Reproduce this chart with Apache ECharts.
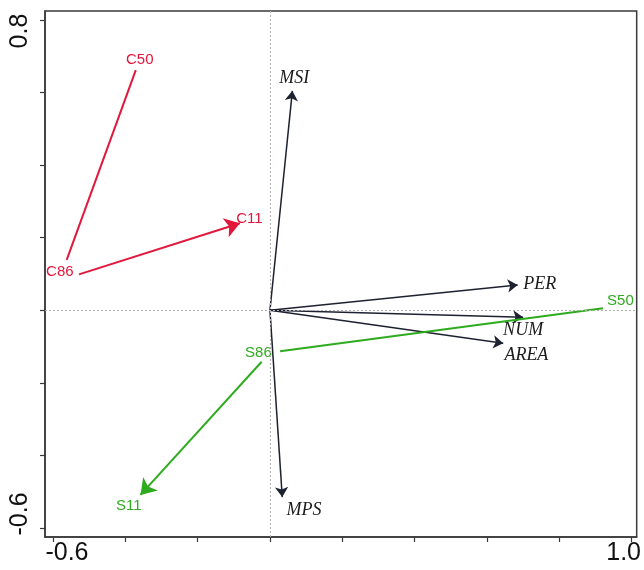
<!DOCTYPE html>
<html>
<head>
<meta charset="utf-8">
<script src="https://cdn.jsdelivr.net/npm/echarts@6/dist/echarts.min.js"></script>
<style>html,body{margin:0;padding:0;background:#fff}#c{width:644px;height:570px}</style>
</head>
<body>
<div id="c"></div>
<script>
// ---- data ----
const xTicks = [-0.6, -0.4, -0.2, 0, 0.2, 0.4, 0.6, 0.8, 1.0];
const yTicks = [-0.6, -0.4, -0.2, 0, 0.2, 0.4, 0.6, 0.8];
const xTickLabels = [-0.6, 1.0];
const yTickLabels = [-0.6, 0.8];

// environmental variable arrows (from origin)
const varNames  = ['MSI', 'PER', 'NUM', 'AREA', 'MPS'];
const varTipX   = [0.062, 0.685, 0.700, 0.645, 0.034];
const varTipY   = [0.605, 0.070, -0.019, -0.091, -0.515];
const varLabX   = [0.067, 0.746, 0.700, 0.709, 0.094];
const varLabY   = [0.640, 0.072, -0.054, -0.125, -0.552];

// C trajectory (red)
const cNames = ['C50', 'C86', 'C11'];
const cLabX  = [-0.360, -0.581, -0.057];
const cLabY  = [0.691, 0.106, 0.253];
const cSegFromX = [-0.371, -0.528];
const cSegFromY = [0.662, 0.099];
const cSegToX   = [-0.562, -0.083];
const cSegToY   = [0.139, 0.240];
const cSegArrow = [false, true];

// S trajectory (green)
const sNames = ['S50', 'S86', 'S11'];
const sLabX  = [0.969, -0.032, -0.390];
const sLabY  = [0.025, -0.117, -0.538];
const sSegFromX = [0.921, -0.023];
const sSegFromY = [0.0055, -0.142];
const sSegToX   = [0.028, -0.358];
const sSegToY   = [-0.113, -0.509];
const sSegArrow = [false, true];

const RED = '#e2173b';
const GREEN = '#2fab1f';
const DARK = '#1d2130';

function segs(fx, fy, tx, ty, arr) {
  return fx.map((v, i) => ({
    coords: [[fx[i], fy[i]], [tx[i], ty[i]]],
    symbol: ['none', arr[i] ? 'arrow' : 'none']
  }));
}
function labs(names, xs, ys) {
  return names.map((n, i) => ({ name: n, value: [xs[i], ys[i]] }));
}

const chart = echarts.init(document.getElementById('c'), null, { renderer: 'canvas' });
const axisCommon = {
  type: 'value',
  splitLine: { show: false },
  axisLine: { show: true, onZero: false, lineStyle: { color: '#3a3a3a', width: 1.5 } },
  axisTick: { show: true, inside: false, length: 5, lineStyle: { color: '#3a3a3a', width: 1.2 } }
};
function labelSeries(names, xs, ys, font, style, size, color) {
  return {
    type: 'scatter', symbolSize: 0, silent: true,
    itemStyle: { opacity: 1 },
    label: { show: true, position: 'inside', formatter: '{b}', fontFamily: font, fontStyle: style, fontSize: size, color: color, opacity: 1 },
    data: labs(names, xs, ys)
  };
}
chart.setOption({
  animation: false,
  grid: { left: 45, top: 11, right: 5, bottom: 33, show: true, borderColor: '#3a3a3a', borderWidth: 1.5, containLabel: false },
  xAxis: Object.assign({}, axisCommon, {
    min: -0.622, max: 1.014,
    axisTick: Object.assign({}, axisCommon.axisTick, { customValues: xTicks }),
    axisLabel: {
      customValues: xTickLabels, margin: 4,
      formatter: v => (v < 0 ? '{l|' : '{r|') + v.toFixed(1) + '}',
      rich: {
        l: { fontFamily: 'Liberation Sans', fontSize: 25, color: '#111', padding: [0, 0, 0, 28] },
        r: { fontFamily: 'Liberation Sans', fontSize: 25, color: '#111', padding: [0, 16, 0, 0] }
      }
    }
  }),
  yAxis: Object.assign({}, axisCommon, {
    min: -0.625, max: 0.825,
    axisTick: Object.assign({}, axisCommon.axisTick, { customValues: yTicks }),
    axisLabel: {
      customValues: yTickLabels, rotate: 90, margin: 12,
      formatter: v => (v < 0 ? '{l|' : '{r|') + v.toFixed(1) + '}',
      rich: {
        l: { fontFamily: 'Liberation Sans', fontSize: 25, color: '#111', padding: [0, 0, 0, 28] },
        r: { fontFamily: 'Liberation Sans', fontSize: 25, color: '#111', padding: [0, 22, 0, 0] }
      }
    }
  }),
  series: [
    {
      type: 'scatter', symbolSize: 0, data: [], silent: true,
      markLine: {
        silent: true, symbol: ['none', 'none'], label: { show: false },
        lineStyle: { color: '#b0b0b0', type: [2, 2], width: 1 },
        data: [{ xAxis: 0 }, { yAxis: 0 }]
      }
    },
    {
      type: 'lines', coordinateSystem: 'cartesian2d', silent: true,
      symbolSize: 10,
      lineStyle: { color: DARK, width: 1.5, opacity: 1 },
      data: varNames.map((n, i) => ({ coords: [[0, 0], [varTipX[i], varTipY[i]]], symbol: ['none', 'arrow'] }))
    },
    {
      type: 'lines', coordinateSystem: 'cartesian2d', silent: true,
      symbolSize: 15,
      lineStyle: { color: RED, width: 2, opacity: 1 },
      data: segs(cSegFromX, cSegFromY, cSegToX, cSegToY, cSegArrow)
    },
    {
      type: 'lines', coordinateSystem: 'cartesian2d', silent: true,
      symbolSize: 15,
      lineStyle: { color: GREEN, width: 2, opacity: 1 },
      data: segs(sSegFromX, sSegFromY, sSegToX, sSegToY, sSegArrow)
    },
    labelSeries(varNames, varLabX, varLabY, 'Liberation Serif', 'italic', 18, '#1a1a1a'),
    labelSeries(cNames, cLabX, cLabY, 'Liberation Sans', 'normal', 15, RED),
    labelSeries(sNames, sLabX, sLabY, 'Liberation Sans', 'normal', 15, GREEN)
  ]
});
</script>
</body>
</html>
